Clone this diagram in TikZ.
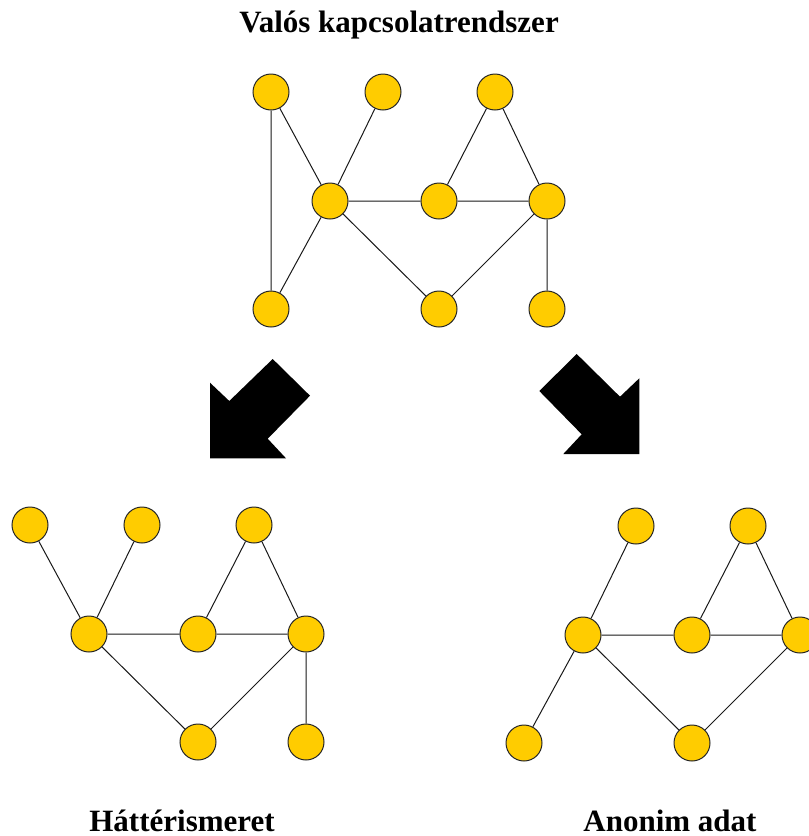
\documentclass[tikz,border=0pt]{standalone}
\usepackage{fontspec}
\setmainfont{Liberation Serif}
\begin{document}
\begin{tikzpicture}[x=1pt,y=-1pt,
  vertex/.style={circle,draw=black!85,line width=1pt,fill=nodegold,minimum size=36pt,inner sep=0pt},
  link/.style={draw=black!90,line width=1pt},
  bigarrow/.style={fill=black,draw=none},
  caption/.style={font=\fontsize{31}{36}\selectfont\bfseries,anchor=base,inner sep=0pt}]
\definecolor{nodegold}{HTML}{FFCC00}
\useasboundingbox (0,0) rectangle (809,836);

% titles
\node[caption] (t1) at (399,32.7) {Valós kapcsolatrendszer};
\node[caption] (t2) at (182,831) {Háttérismeret};
\node[caption] (t3) at (670,831) {Anonim adat};

% real network
\node[vertex] (a) at (271,92) {};
\node[vertex] (b) at (383,92) {};
\node[vertex] (c) at (495,92) {};
\node[vertex] (d) at (330,201) {};
\node[vertex] (e) at (439,201) {};
\node[vertex] (f) at (547,201) {};
\node[vertex] (g) at (271,309) {};
\node[vertex] (h) at (439,309) {};
\node[vertex] (i) at (547,309) {};
\path[link] (a) -- (g) (a) -- (d) (b) -- (d) (d) -- (g) (d) -- (e) (e) -- (f)
  (c) -- (e) (c) -- (f) (d) -- (h) (h) -- (f) (f) -- (i);

% background knowledge
\begin{scope}[shift={(-241,433)}]
\node[vertex] (la) at (271,92) {};
\node[vertex] (lb) at (383,92) {};
\node[vertex] (lc) at (495,92) {};
\node[vertex] (ld) at (330,201) {};
\node[vertex] (le) at (439,201) {};
\node[vertex] (lf) at (547,201) {};
\node[vertex] (lh) at (439,309) {};
\node[vertex] (li) at (547,309) {};
\end{scope}
\path[link] (la) -- (ld) (lb) -- (ld) (ld) -- (le) (le) -- (lf)
  (lc) -- (le) (lc) -- (lf) (ld) -- (lh) (lh) -- (lf) (lf) -- (li);

% anonymised data
\begin{scope}[shift={(253,434)}]
\node[vertex] (rb) at (383,92) {};
\node[vertex] (rc) at (495,92) {};
\node[vertex] (rd) at (330,201) {};
\node[vertex] (re) at (439,201) {};
\node[vertex] (rf) at (547,201) {};
\node[vertex] (rg) at (271,309) {};
\node[vertex] (rh) at (439,309) {};
\end{scope}
\path[link] (rb) -- (rd) (rd) -- (rg) (rd) -- (re) (re) -- (rf)
  (rc) -- (re) (rc) -- (rf) (rd) -- (rh) (rh) -- (rf);

% block arrows
\fill[bigarrow] (210,382.7) -- (229.3,401) -- (272.7,359) -- (310,395.7)
  -- (267.7,438.7) -- (286,458.3) -- (210,458.3) -- cycle;
\fill[bigarrow] (576.7,354) -- (539.3,391) -- (581.7,434.3) -- (563.3,454)
  -- (639.3,454) -- (639.3,378.3) -- (620,396.7) -- cycle;
\end{tikzpicture}
\end{document}
